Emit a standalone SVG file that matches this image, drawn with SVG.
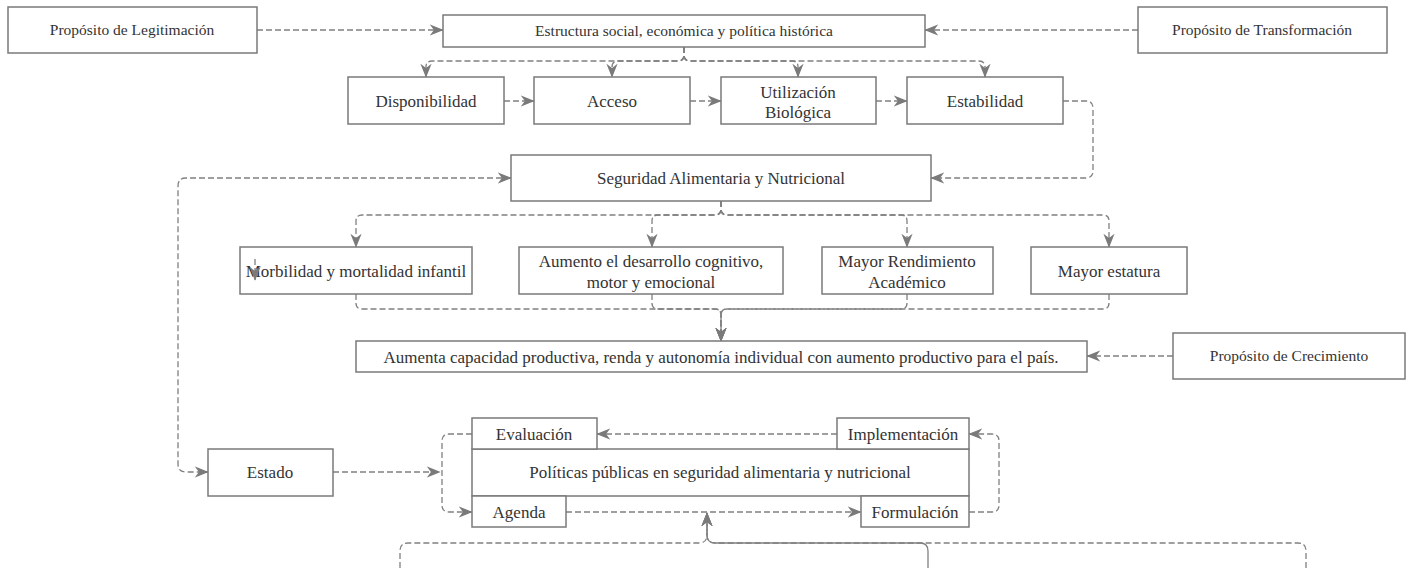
<svg xmlns="http://www.w3.org/2000/svg" width="1409" height="568" viewBox="0 0 1409 568">
  <style>
    .box { fill: #ffffff; stroke: #7a7a7a; stroke-width: 1.5; }
    .lbl { font-family: "Liberation Serif", "Times New Roman", serif; font-size: 17px; fill: #333333; text-anchor: middle; }
    .sm { font-size: 15.5px; }
    .edge { fill: none; stroke: #808080; stroke-width: 1.3; stroke-dasharray: 6 3; }
    .solid { fill: none; stroke: #808080; stroke-width: 1.3; }
    .arr { marker-end: url(#head); }
  </style>
  <defs>
    <marker id="head" viewBox="0 0 10 10" refX="9.5" refY="5" markerWidth="14" markerHeight="14" markerUnits="userSpaceOnUse" orient="auto-start-reverse">
      <path d="M0,1 L10,5 L0,9 L3,5 Z" fill="#7a7a7a"/>
    </marker>
  </defs>

  <rect width="1409" height="568" fill="#ffffff"/>

  <!-- connectors -->
  <g id="connectors">
    <!-- purposes into the historical structure -->
    <path class="edge arr" d="M257 30 H443"/>
    <path class="edge arr" d="M1138 30 H925"/>

    <!-- structure to the four dimensions -->
    <path class="edge arr" d="M684 47 V55 Q684 61 678 61 H432 Q426 61 426 67 V77"/>
    <path class="edge arr" d="M684 47 V55 Q684 61 678 61 H618 Q612 61 612 67 V77"/>
    <path class="edge arr" d="M684 47 V55 Q684 61 690 61 H792 Q798 61 798 67 V77"/>
    <path class="edge arr" d="M684 47 V55 Q684 61 690 61 H979 Q985 61 985 67 V77"/>

    <!-- chain of dimensions -->
    <path class="edge arr" d="M504 101 H534"/>
    <path class="edge arr" d="M690 101 H721"/>
    <path class="edge arr" d="M876 101 H907"/>

    <!-- stability to food security -->
    <path class="edge arr" d="M1063 101 H1086 Q1093 101 1093 108 V171 Q1093 178 1086 178 H931"/>

    <!-- food security and the state -->
    <path class="edge arr" style="marker-start:url(#head)" d="M511 178 H186 Q178 178 178 186 V464 Q178 472 186 472 H208"/>

    <!-- food security to outcomes -->
    <path class="edge arr" d="M721 201 V209 Q721 215 715 215 H362 Q356 215 356 221 V247"/>
    <path class="edge arr" d="M721 201 V209 Q721 215 715 215 H658 Q652 215 652 221 V247"/>
    <path class="edge arr" d="M721 201 V209 Q721 215 727 215 H901 Q907 215 907 221 V247"/>
    <path class="edge arr" d="M721 201 V209 Q721 215 727 215 H1103 Q1109 215 1109 221 V247"/>

    <!-- outcomes to productive capacity -->
    <path class="edge arr" d="M356 294 V303 Q356 309 362 309 H715 Q721 309 721 315 V341"/>
    <path class="edge arr" d="M652 294 V303 Q652 309 658 309 H715 Q721 309 721 315 V341"/>
    <path class="edge arr" d="M907 294 V303 Q907 309 901 309 H727 Q721 309 721 315 V341"/>
    <path class="edge arr" d="M1109 294 V303 Q1109 309 1103 309 H727 Q721 309 721 315 V341"/>

    <!-- growth purpose -->
    <path class="edge arr" d="M1173 356 H1087"/>

    <!-- state to public policy -->
    <path class="edge arr" d="M333 472 H440"/>

    <!-- policy cycle -->
    <path class="edge arr" d="M472 434 H449 Q442 434 442 441 V505 Q442 512 449 512 H472"/>
    <path class="edge arr" d="M566 512 H861"/>
    <path class="edge arr" d="M969 512 H992 Q999 512 999 505 V441 Q999 434 992 434 H969"/>
    <path class="edge arr" d="M837 434 H597"/>

    <!-- inputs from below into the agenda -->
    <path class="edge arr" d="M400 568 V551 Q400 543 408 543 H699 Q707 543 707 535 V513"/>
    <path class="edge arr" d="M1306 568 V551 Q1306 543 1298 543 H715 Q707 543 707 535 V513"/>
    <path class="solid arr" d="M928 568 V551 Q928 543 920 543 H715 Q707 543 707 535 V513"/>
  </g>

  <!-- nodes -->
  <g id="legitimacion">
    <rect class="box" x="8" y="7" width="249" height="46"/>
    <text class="lbl sm" x="132" y="30" dy="0.35em">Propósito de Legitimación</text>
  </g>
  <g id="estructura">
    <rect class="box" x="443" y="15" width="482" height="32"/>
    <text class="lbl sm" x="684" y="31" dy="0.35em">Estructura social, económica y política histórica</text>
  </g>
  <g id="transformacion">
    <rect class="box" x="1138" y="7" width="249" height="46"/>
    <text class="lbl sm" x="1262" y="30" dy="0.35em">Propósito de Transformación</text>
  </g>

  <g id="disponibilidad">
    <rect class="box" x="348" y="77" width="156" height="47"/>
    <text class="lbl" x="426" y="101" dy="0.35em">Disponibilidad</text>
  </g>
  <g id="acceso">
    <rect class="box" x="534" y="77" width="156" height="47"/>
    <text class="lbl" x="612" y="101" dy="0.35em">Acceso</text>
  </g>
  <g id="utilizacion">
    <rect class="box" x="721" y="77" width="155" height="47"/>
    <text class="lbl" x="798" y="92" dy="0.35em">Utilización</text>
    <text class="lbl" x="798" y="112" dy="0.35em">Biológica</text>
  </g>
  <g id="estabilidad">
    <rect class="box" x="907" y="77" width="156" height="47"/>
    <text class="lbl" x="985" y="101" dy="0.35em">Estabilidad</text>
  </g>

  <g id="seguridad">
    <rect class="box" x="511" y="155" width="420" height="46"/>
    <text class="lbl" x="721" y="178" dy="0.35em">Seguridad Alimentaria y Nutricional</text>
  </g>

  <g id="morbilidad">
    <rect class="box" x="240" y="247" width="232" height="47"/>
    <text class="lbl" x="356" y="271" dy="0.35em">Morbilidad y mortalidad infantil</text>
    <!-- short arrow lying over the first letter -->
    <path class="edge arr" d="M255 259 V280"/>
  </g>
  <g id="desarrollo">
    <rect class="box" x="519" y="247" width="264" height="47"/>
    <text class="lbl" x="651" y="261" dy="0.35em">Aumento el desarrollo cognitivo,</text>
    <text class="lbl" x="651" y="282" dy="0.35em">motor y emocional</text>
  </g>
  <g id="rendimiento">
    <rect class="box" x="822" y="247" width="171" height="47"/>
    <text class="lbl" x="907" y="261" dy="0.35em">Mayor Rendimiento</text>
    <text class="lbl" x="907" y="282" dy="0.35em">Académico</text>
  </g>
  <g id="estatura">
    <rect class="box" x="1031" y="247" width="156" height="47"/>
    <text class="lbl" x="1109" y="271" dy="0.35em">Mayor estatura</text>
  </g>

  <g id="capacidad">
    <rect class="box" x="356" y="341" width="731" height="31"/>
    <text class="lbl" x="721" y="357" dy="0.35em">Aumenta capacidad productiva, renda y autonomía individual con aumento productivo para el país.</text>
  </g>
  <g id="crecimiento">
    <rect class="box" x="1173" y="333" width="232" height="46"/>
    <text class="lbl sm" x="1289" y="356" dy="0.35em">Propósito de Crecimiento</text>
  </g>

  <g id="estado">
    <rect class="box" x="208" y="449" width="125" height="47"/>
    <text class="lbl" x="270" y="472" dy="0.35em">Estado</text>
  </g>

  <g id="politicas">
    <rect class="box" x="472" y="449" width="497" height="47"/>
    <text class="lbl" x="720" y="472" dy="0.35em">Políticas públicas en seguridad alimentaria y nutricional</text>
  </g>
  <g id="evaluacion">
    <rect class="box" x="472" y="418" width="125" height="31"/>
    <text class="lbl" x="534" y="434" dy="0.35em">Evaluación</text>
  </g>
  <g id="implementacion">
    <rect class="box" x="837" y="418" width="132" height="31"/>
    <text class="lbl" x="903" y="434" dy="0.35em">Implementación</text>
  </g>
  <g id="agenda">
    <rect class="box" x="472" y="496" width="94" height="31"/>
    <text class="lbl" x="519" y="512" dy="0.35em">Agenda</text>
  </g>
  <g id="formulacion">
    <rect class="box" x="861" y="496" width="108" height="31"/>
    <text class="lbl" x="915" y="512" dy="0.35em">Formulación</text>
  </g>
</svg>
